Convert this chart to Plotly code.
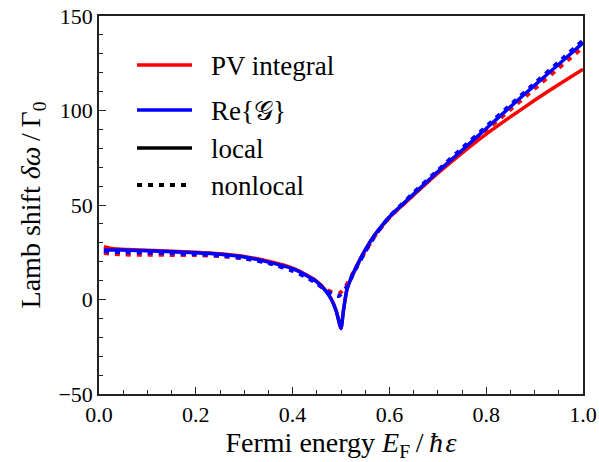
import plotly.graph_objects as go

# Local (solid) curves
x_local = [0.01, 0.03, 0.06, 0.1, 0.15, 0.2, 0.25, 0.3, 0.35, 0.4, 0.43, 0.45, 0.47, 0.48, 0.49, 0.5,
           0.505, 0.512, 0.522, 0.532, 0.546, 0.567, 0.585, 0.6, 0.615, 0.63, 0.65, 0.7, 0.75, 0.8,
           0.85, 0.9, 0.95, 1.0]
pv_local = [27.9, 26.8, 26.4, 26.0, 25.5, 25.0, 24.2, 22.8, 20.2, 16.6, 12.8, 9.6, 4.3, 0.3, -5.8, -15.3,
            -6.0, 5.0, 12.0, 17.4, 24.4, 33.2, 39.0, 43.4, 47.1, 50.6, 55.2, 66.8, 77.5, 87.5,
            96.6, 105.4, 113.8, 121.8]
re_local = [26.2, 26.2, 26.1, 25.8, 25.3, 24.8, 24.0, 22.5, 19.8, 16.3, 12.5, 9.3, 4.0, 0.0, -6.0, -15.3,
            -6.0, 5.0, 12.0, 17.4, 24.4, 33.2, 39.2, 43.7, 47.5, 51.1, 55.8, 67.6, 79.0, 90.5,
            102.0, 113.3, 124.5, 135.8]

# Nonlocal (dotted) curves
x_nonlocal = [0.01, 0.05, 0.1, 0.15, 0.2, 0.25, 0.3, 0.35, 0.4, 0.43, 0.45, 0.47, 0.485, 0.495,
              0.5, 0.51, 0.52, 0.53, 0.546, 0.567, 0.585, 0.6, 0.625, 0.65, 0.7, 0.75, 0.8, 0.85,
              0.9, 0.95, 1.0]
pv_nonlocal = [24.6, 23.8, 23.7, 23.6, 23.5, 23.0, 21.8, 19.4, 15.6, 12.0, 9.0, 5.2, 3.5, 3.2,
               4.0, 7.0, 11.5, 16.5, 23.5, 32.5, 38.8, 43.4, 49.6, 55.5, 67.5, 78.5, 89.5, 100.5,
               111.5, 122.5, 133.5]
re_nonlocal = [25.5, 25.0, 24.8, 24.5, 24.0, 23.2, 21.8, 19.3, 15.2, 11.6, 8.5, 4.5, 2.4, 1.8,
               2.8, 6.0, 10.8, 16.0, 23.5, 32.5, 39.0, 43.8, 50.2, 56.5, 68.3, 80.0, 91.5, 103.0,
               114.3, 125.7, 137.0]

legend_names = ["PV integral", "Re{𝒢}", "local", "nonlocal"]
legend_colors = ["#ff0000", "#0000ff", "#000000", "#000000"]
legend_dash = ["solid", "solid", "solid", "5px,6px"]

RED = "#ff0000"
BLUE = "#0000ff"
FONT = "Liberation Serif"
DOT = "5px,6px"

fig = go.Figure()
fig.add_trace(go.Scatter(x=x_local, y=pv_local, mode="lines", name="PV integral, local",
                         line=dict(color=RED, width=3.5, shape="spline", smoothing=0.5), showlegend=False))
fig.add_trace(go.Scatter(x=x_nonlocal, y=pv_nonlocal, mode="lines", name="PV integral, nonlocal",
                         line=dict(color=RED, width=4, dash=DOT, shape="spline", smoothing=0.5), showlegend=False))
fig.add_trace(go.Scatter(x=x_local, y=re_local, mode="lines", name="Re{𝒢}, local",
                         line=dict(color=BLUE, width=3.5, shape="spline", smoothing=0.5), showlegend=False))
fig.add_trace(go.Scatter(x=x_nonlocal, y=re_nonlocal, mode="lines", name="Re{𝒢}, nonlocal",
                         line=dict(color=BLUE, width=4, dash=DOT, shape="spline", smoothing=0.5), showlegend=False))

# Manual legend (line samples + labels) in paper coordinates
plot_l, plot_r, plot_t, plot_b = 99, 583, 16, 394
def px_x(p):
    return (p - plot_l) / (plot_r - plot_l)
def px_y(p):
    return (plot_b - p) / (plot_b - plot_t)

legend_rows = [65, 110, 148, 185]
for name, col, dash, row in zip(legend_names, legend_colors, legend_dash, legend_rows):
    fig.add_shape(type="line", xref="paper", yref="paper",
                  x0=px_x(137), x1=px_x(192), y0=px_y(row), y1=px_y(row),
                  line=dict(color=col, width=4 if dash != "solid" else 3.5, dash=dash))
    fig.add_annotation(xref="paper", yref="paper", x=px_x(209), y=px_y(row + 1),
                       text=name, showarrow=False, xanchor="left", yanchor="middle",
                       font=dict(family=FONT, size=27, color="black"))

axis_common = dict(
    showline=True, linecolor="#222222", linewidth=1.5, mirror=True,
    ticks="inside", ticklen=7, tickwidth=1.2, tickcolor="#222222",
    showgrid=False, zeroline=False, automargin=False,
    tickfont=dict(family=FONT, size=22, color="black"),
)

fig.update_layout(
    width=599, height=462,
    margin=dict(l=plot_l, r=599 - plot_r, t=plot_t, b=462 - plot_b),
    paper_bgcolor="white", plot_bgcolor="white",
    font=dict(family=FONT, color="black"),
    showlegend=False,
    xaxis=dict(range=[0, 1], tickmode="array", tickvals=[0, 0.2, 0.4, 0.6, 0.8, 1.0],
               ticktext=["0.0", "0.2", "0.4", "0.6", "0.8", "1.0"],
               minor=dict(ticks="inside", ticklen=4, dtick=0.05, tickcolor="#222222", tickwidth=1),
               title=dict(text="Fermi energy <i>E</i><sub>F</sub>\u2009/\u2009<i>ħ\u200aε</i>",
                          font=dict(family=FONT, size=28), standoff=5),
               **axis_common),
    yaxis=dict(range=[-50, 150], tickmode="array", tickvals=[-50, 0, 50, 100, 150],
               ticktext=["−50", "0", "50", "100", "150"],
               minor=dict(ticks="inside", ticklen=4, dtick=10, tickcolor="#222222", tickwidth=1),
               title=dict(text="Lamb shift <i>δω</i>\u2009/\u2009Γ<sub>0</sub>",
                          font=dict(family=FONT, size=28), standoff=10),
               **axis_common),
)

fig.write_html("out.html")
